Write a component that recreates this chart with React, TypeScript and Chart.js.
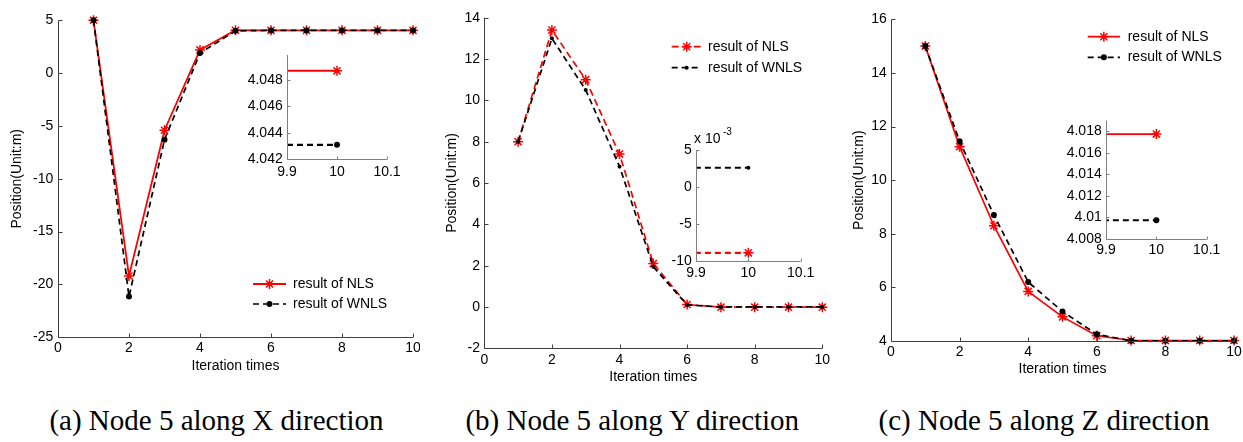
import React, { useEffect, useRef } from 'react';
import { Chart, registerables } from 'chart.js';

Chart.register(...registerables);

const FONT = "'Liberation Sans', Arial, sans-serif";
const SERIF = "'Liberation Serif', 'Times New Roman', serif";

// ---------------- data ----------------
const ITER = [1, 2, 3, 4, 5, 6, 7, 8, 9, 10];

const X_NLS = [5, -19.2, -5.4, 2.2, 4.06, 4.0487, 4.0487, 4.0487, 4.0487, 4.0487];
const X_WNLS = [5, -21.15, -6.3, 1.9, 4.0, 4.0431, 4.0431, 4.0431, 4.0431, 4.0431];

const Y_NLS = [8, 13.4, 11.0, 7.4, 2.1, 0.12, -0.0089, -0.0089, -0.0089, -0.0089];
const Y_WNLS = [8, 13.0, 10.5, 6.8, 1.95, 0.1, 0.0026, 0.0026, 0.0026, 0.0026];

const Z_NLS = [15, 11.25, 8.3, 5.85, 4.9, 4.2, 4.01775, 4.01775, 4.01775, 4.01775];
const Z_WNLS = [15, 11.45, 8.7, 6.2, 5.1, 4.25, 4.00972, 4.00972, 4.00972, 4.00972];

const MAIN_X_TICKS = [0, 2, 4, 6, 8, 10];
const X_MAIN_Y_TICKS = [-25, -20, -15, -10, -5, 0, 5];
const Y_MAIN_Y_TICKS = [-2, 0, 2, 4, 6, 8, 10, 12, 14];
const Z_MAIN_Y_TICKS = [4, 6, 8, 10, 12, 14, 16];

const INSET_X_TICKS = [9.9, 10, 10.1];
const X_INSET_Y_TICKS = [4.042, 4.044, 4.046, 4.048];
const Y_INSET_Y_TICKS = [-0.01, -0.005, 0, 0.005];
const Z_INSET_Y_TICKS = [4.008, 4.01, 4.012, 4.014, 4.016, 4.018];

const LEGEND_LABELS = ['result of NLS', 'result of WNLS'];
const X_TITLE = 'Iteration times';
const Y_TITLE = 'Position(Unit:m)';
const CAPTIONS = ['(a) Node 5 along X direction', '(b) Node 5 along Y direction', '(c) Node 5 along Z direction'];

// ---------------- helpers ----------------
type Series = {
  values: number[];
  color: string;
  dash: number[];
  width: number;
  marker: 'star' | 'circle';
  radius: number;
};

type Spec = {
  box: { x: number; y: number; w: number; h: number };
  area: { l: number; r: number; t: number; b: number };
  xMin: number; xMax: number; yMin: number; yMax: number;
  xTicks: number[]; yTicks: number[];
  xFmt: (v: number) => string; yFmt: (v: number) => string;
  xPad: number; yPad: number;
  xTitlePad?: number; yTitlePad?: number;
  series: Series[];
  inset: boolean;
  axisColor: string;
  tickLen: number;
  legend?: { x1: number; x2: number; tx: number; ys: number[] };
  texts?: { text: string; x: number; y: number; size: number }[];
};

const STAR_BW = 1.5;

function drawMarker(ctx: CanvasRenderingContext2D, style: string, r: number, color: string, x: number, y: number, bw: number) {
  ctx.save();
  ctx.setLineDash([]);
  if (style === 'star') {
    ctx.strokeStyle = color;
    ctx.lineWidth = bw;
    const d = r * Math.SQRT1_2;
    ctx.beginPath();
    ctx.moveTo(x, y - r); ctx.lineTo(x, y + r);
    ctx.moveTo(x - r, y); ctx.lineTo(x + r, y);
    ctx.moveTo(x - d, y - d); ctx.lineTo(x + d, y + d);
    ctx.moveTo(x - d, y + d); ctx.lineTo(x + d, y - d);
    ctx.stroke();
  } else {
    ctx.fillStyle = color;
    ctx.beginPath();
    ctx.arc(x, y, r, 0, Math.PI * 2);
    ctx.fill();
  }
  ctx.restore();
}

const axesPlugin = {
  id: 'matAxes',
  afterDatasetsDraw(chart: any, _args: any, opts: any) {
    const ctx: CanvasRenderingContext2D = chart.ctx;
    const { left, right, top, bottom } = chart.chartArea;
    ctx.save();
    ctx.strokeStyle = opts.axisColor;
    ctx.lineWidth = 1;
    ctx.setLineDash([]);
    const L = Math.round(left) + 0.5;
    const B = Math.round(bottom) + 0.5;
    ctx.beginPath();
    ctx.moveTo(L, top);
    ctx.lineTo(L, B);
    ctx.lineTo(right, B);
    const xs = chart.scales.x;
    const ys = chart.scales.y;
    xs.ticks.forEach((t: any) => {
      const p = Math.round(xs.getPixelForValue(t.value)) + 0.5;
      ctx.moveTo(p, B);
      ctx.lineTo(p, B - opts.tickLen);
    });
    ys.ticks.forEach((t: any) => {
      const p = Math.round(ys.getPixelForValue(t.value)) + 0.5;
      ctx.moveTo(L, p);
      ctx.lineTo(L + opts.tickLen, p);
    });
    ctx.stroke();
    ctx.restore();

    if (opts.legend) {
      const lg = opts.legend;
      chart.data.datasets.forEach((d: any, i: number) => {
        const y = lg.ys[i];
        ctx.save();
        ctx.strokeStyle = d.borderColor;
        ctx.lineWidth = d.borderWidth;
        ctx.setLineDash(d.borderDash || []);
        ctx.beginPath();
        ctx.moveTo(lg.x1, y);
        ctx.lineTo(lg.x2, y);
        ctx.stroke();
        ctx.restore();
        drawMarker(ctx, d.pointStyle, d.pointRadius, d.pointBorderColor, (lg.x1 + lg.x2) / 2, y, STAR_BW);
        ctx.save();
        ctx.fillStyle = '#000';
        ctx.font = `14px ${FONT}`;
        ctx.textBaseline = 'middle';
        ctx.textAlign = 'left';
        ctx.fillText(LEGEND_LABELS[i], lg.tx, y);
        ctx.restore();
      });
    }
    if (opts.texts) {
      opts.texts.forEach((t: any) => {
        ctx.save();
        ctx.fillStyle = '#000';
        ctx.font = `${t.size}px ${FONT}`;
        ctx.textBaseline = 'middle';
        ctx.textAlign = 'left';
        ctx.fillText(t.text, t.x, t.y);
        ctx.restore();
      });
    }
  },
};

function buildConfig(s: Spec): any {
  const { box, area } = s;
  const font = { family: FONT, size: 14 };
  return {
    type: 'line',
    data: {
      datasets: s.series.map((se, i) => ({
        label: LEGEND_LABELS[i],
        data: ITER.map((x, k) => ({ x, y: se.values[k] })),
        borderColor: se.color,
        backgroundColor: se.color,
        borderWidth: se.width,
        borderDash: se.dash,
        pointStyle: se.marker,
        pointRadius: se.radius,
        pointHoverRadius: se.radius,
        pointBorderColor: se.color,
        pointBackgroundColor: se.color,
        pointBorderWidth: se.marker === 'star' ? STAR_BW : 0,
        tension: 0,
        fill: false,
        order: i === 0 ? 1 : 0,
        clip: s.inset ? { left: 0, top: 20, right: 20, bottom: 20 } : false,
      })),
    },
    options: {
      responsive: false,
      animation: false,
      events: [],
      layout: {
        padding: { left: 0, top: area.t - box.y, right: box.x + box.w - area.r, bottom: 0 },
      },
      plugins: {
        legend: { display: false },
        tooltip: { enabled: false },
        matAxes: {
          axisColor: s.axisColor,
          tickLen: s.tickLen,
          legend: s.legend,
          texts: s.texts,
        },
      },
      scales: {
        x: {
          type: 'linear',
          min: s.xMin,
          max: s.xMax,
          grid: { display: false, drawTicks: false, tickLength: 0 },
          border: { display: false },
          afterBuildTicks: (sc: any) => {
            sc.ticks = s.xTicks.map((v) => ({ value: v }));
          },
          afterFit: (sc: any) => {
            sc.height = box.y + box.h - area.b;
            sc.paddingLeft = 0;
            sc.paddingRight = 0;
          },
          ticks: {
            padding: s.xPad,
            color: '#000',
            font,
            maxRotation: 0,
            minRotation: 0,
            autoSkip: false,
            callback: (v: any) => s.xFmt(Number(v)),
          },
          title:
            s.xTitlePad !== undefined
              ? { display: true, text: X_TITLE, color: '#000', font, padding: { top: 0, bottom: s.xTitlePad } }
              : { display: false },
        },
        y: {
          type: 'linear',
          min: s.yMin,
          max: s.yMax,
          grid: { display: false, drawTicks: false, tickLength: 0 },
          border: { display: false },
          afterBuildTicks: (sc: any) => {
            sc.ticks = s.yTicks.map((v) => ({ value: v }));
          },
          afterFit: (sc: any) => {
            sc.width = area.l - box.x;
            sc.paddingTop = 0;
            sc.paddingBottom = 0;
          },
          ticks: {
            padding: s.yPad,
            color: '#000',
            font,
            autoSkip: false,
            callback: (v: any) => s.yFmt(Number(v)),
          },
          title:
            s.yTitlePad !== undefined
              ? { display: true, text: Y_TITLE, color: '#000', font, padding: { top: s.yTitlePad, bottom: 0 } }
              : { display: false },
        },
      },
    },
    plugins: [axesPlugin],
  };
}

const RED = '#ff0000';
const BLACK = '#000000';
const plain = (v: number) => String(v);
const trim3 = (v: number) => String(Number(v.toFixed(3)));

// ---------------- panel specs ----------------
const SPECS: Spec[] = [
  // (a) main
  {
    box: { x: 0, y: 0, w: 420, h: 400 },
    area: { l: 58, r: 413, t: 20.3, b: 337.3 },
    xMin: 0, xMax: 10, yMin: -25, yMax: 5,
    xTicks: MAIN_X_TICKS, yTicks: X_MAIN_Y_TICKS, xFmt: plain, yFmt: plain,
    xPad: 2.6, yPad: 4.7, xTitlePad: 25.9, yTitlePad: 8.6,
    series: [
      { values: X_NLS, color: RED, dash: [], width: 1.8, marker: 'star', radius: 5 },
      { values: X_WNLS, color: BLACK, dash: [6, 4], width: 1.7, marker: 'circle', radius: 3 },
    ],
    inset: false, axisColor: '#404040', tickLen: 4,
    legend: { x1: 253, x2: 286, tx: 293, ys: [284, 304] },
  },
  // (a) inset
  {
    box: { x: 215, y: 40, w: 195, h: 150 },
    area: { l: 287, r: 387, t: 55, b: 159.3 },
    xMin: 9.9, xMax: 10.1, yMin: 4.042, yMax: 4.0499,
    xTicks: INSET_X_TICKS, yTicks: X_INSET_Y_TICKS, xFmt: plain, yFmt: (v) => v.toFixed(3),
    xPad: 4, yPad: 4.3,
    series: [
      { values: X_NLS, color: RED, dash: [], width: 2, marker: 'star', radius: 5 },
      { values: X_WNLS, color: BLACK, dash: [6, 4], width: 2.2, marker: 'circle', radius: 3 },
    ],
    inset: true, axisColor: '#808080', tickLen: 3,
  },
  // (b) main
  {
    box: { x: 420, y: 0, w: 420, h: 400 },
    area: { l: 484.3, r: 822.3, t: 17.7, b: 348.3 },
    xMin: 0, xMax: 10, yMin: -2, yMax: 14,
    xTicks: MAIN_X_TICKS, yTicks: Y_MAIN_Y_TICKS, xFmt: plain, yFmt: plain,
    xPad: 3.3, yPad: 4.3, xTitlePad: 14.6, yTitlePad: 23.3,
    series: [
      { values: Y_NLS, color: RED, dash: [7, 4], width: 1.7, marker: 'star', radius: 5 },
      { values: Y_WNLS, color: BLACK, dash: [6, 4], width: 1.7, marker: 'circle', radius: 2 },
    ],
    inset: false, axisColor: '#404040', tickLen: 4,
    legend: { x1: 251.7, x2: 281.7, tx: 288, ys: [46.7, 67.7] },
  },
  // (b) inset
  {
    box: { x: 640, y: 120, w: 190, h: 175 },
    area: { l: 696, r: 800.7, t: 150, b: 261 },
    xMin: 9.9, xMax: 10.1, yMin: -0.01, yMax: 0.005,
    xTicks: INSET_X_TICKS, yTicks: Y_INSET_Y_TICKS, xFmt: plain, yFmt: (v) => String(Math.round(v * 1000)),
    xPad: 3.9, yPad: 4.3,
    series: [
      { values: Y_NLS, color: RED, dash: [6, 4], width: 2.2, marker: 'star', radius: 5 },
      { values: Y_WNLS, color: BLACK, dash: [6, 4], width: 2.2, marker: 'circle', radius: 2 },
    ],
    inset: true, axisColor: '#808080', tickLen: 3,
    texts: [
      { text: 'x 10', x: 54, y: 19, size: 14 },
      { text: '-3', x: 83, y: 12, size: 10 },
    ],
  },
  // (c) main
  {
    box: { x: 840, y: 0, w: 403, h: 400 },
    area: { l: 891, r: 1234, t: 19.3, b: 341 },
    xMin: 0, xMax: 10, yMin: 4, yMax: 16,
    xTicks: MAIN_X_TICKS, yTicks: Z_MAIN_Y_TICKS, xFmt: plain, yFmt: plain,
    xPad: 2.9, yPad: 4.3, xTitlePad: 22.3, yTitlePad: 10.6,
    series: [
      { values: Z_NLS, color: RED, dash: [], width: 1.7, marker: 'star', radius: 5 },
      { values: Z_WNLS, color: BLACK, dash: [6, 4], width: 1.7, marker: 'circle', radius: 3 },
    ],
    inset: false, axisColor: '#404040', tickLen: 4,
    legend: { x1: 247.7, x2: 280, tx: 287.7, ys: [36.7, 57.3] },
  },
  // (c) inset
  {
    box: { x: 1040, y: 100, w: 200, h: 170 },
    area: { l: 1106, r: 1206.7, t: 120.7, b: 238.7 },
    xMin: 9.9, xMax: 10.1, yMin: 4.008, yMax: 4.019,
    xTicks: INSET_X_TICKS, yTicks: Z_INSET_Y_TICKS, xFmt: plain, yFmt: trim3,
    xPad: 2.9, yPad: 4.3,
    series: [
      { values: Z_NLS, color: RED, dash: [], width: 1.6, marker: 'star', radius: 5 },
      { values: Z_WNLS, color: BLACK, dash: [6, 4], width: 2.2, marker: 'circle', radius: 3 },
    ],
    inset: true, axisColor: '#808080', tickLen: 3,
  },
];

const CAPTION_BOXES = [
  { cx: 216.5 },
  { cx: 632.3 },
  { cx: 1044 },
];

function ChartCanvas({ spec }: { spec: Spec }) {
  const ref = useRef<HTMLCanvasElement>(null);
  useEffect(() => {
    const chart = new Chart(ref.current as HTMLCanvasElement, buildConfig(spec));
    return () => chart.destroy();
  }, [spec]);
  const { box } = spec;
  return (
    <canvas
      ref={ref}
      width={box.w}
      height={box.h}
      style={{ position: 'absolute', left: box.x, top: box.y, width: box.w, height: box.h }}
    />
  );
}

export default function App() {
  return (
    <div
      style={{
        position: 'absolute',
        left: 0,
        top: 0,
        width: 1243,
        height: 442,
        background: '#ffffff',
        overflow: 'hidden',
      }}
    >
      {SPECS.map((s, i) => (
        <ChartCanvas key={i} spec={s} />
      ))}
      {CAPTIONS.map((c, i) => (
        <div
          key={'cap' + i}
          style={{
            position: 'absolute',
            left: CAPTION_BOXES[i].cx - 200,
            width: 400,
            top: 402,
            height: 36,
            lineHeight: '36px',
            textAlign: 'center',
            fontFamily: SERIF,
            fontSize: 29,
            color: '#000',
            whiteSpace: 'nowrap',
          }}
        >
          {c}
        </div>
      ))}
    </div>
  );
}
